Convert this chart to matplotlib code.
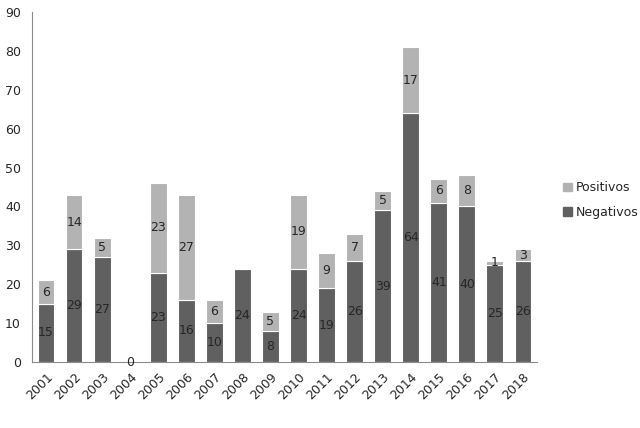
import numpy as np
import matplotlib
matplotlib.use("Agg")
import matplotlib.pyplot as plt
from matplotlib.patches import Patch

years = [str(y) for y in range(2001, 2019)]
negativos = [15, 29, 27, 0, 23, 16, 10, 24, 8, 24, 19, 26, 39, 64, 41, 40, 25, 26]
positivos = [6, 14, 5, 0, 23, 27, 6, 0, 5, 19, 9, 7, 5, 17, 6, 8, 1, 3]

dark = '#606060'
light = '#b3b3b3'
text_col = '#262626'

fig = plt.figure(figsize=(6.4, 4.28), dpi=100)
ax = fig.add_axes([0.05, 0.154, 0.789, 0.818])

x = np.arange(len(years))
neg = np.array(negativos)
pos = np.array(positivos)
ax.bar(x, neg, width=0.6, color=dark, edgecolor='white', linewidth=0.8)
ax.bar(x, pos, width=0.6, bottom=neg, color=light, edgecolor='white', linewidth=0.8)

for i in range(len(years)):
    ax.text(x[i], neg[i] / 2, str(neg[i]), ha='center', va='center',
            fontsize=9, color=text_col)
    if pos[i] > 0:
        ax.text(x[i], neg[i] + pos[i] / 2, str(pos[i]), ha='center', va='center',
                fontsize=9, color=text_col)

ax.set_xlim(-0.5, len(years) - 0.5)
ax.set_ylim(0, 90)
ax.set_yticks(range(0, 91, 10))
ax.set_xticks(x)
ax.set_xticklabels(years, rotation=45, ha='right', rotation_mode='anchor')
ax.tick_params(axis='both', length=0, labelsize=9, colors=text_col)
ax.tick_params(axis='y', pad=8)
ax.tick_params(axis='x', pad=6)
for s in ['top', 'right']:
    ax.spines[s].set_visible(False)
for s in ['left', 'bottom']:
    ax.spines[s].set_color('#8c8c8c')
    ax.spines[s].set_linewidth(0.8)

handles = [Patch(color=light, label='Positivos'), Patch(color=dark, label='Negativos')]
fig.legend(handles=handles, loc='center left', bbox_to_anchor=(0.862, 0.533),
           frameon=False, fontsize=9, handlelength=0.7, handleheight=0.7,
           handletextpad=0.3, labelspacing=0.9, labelcolor=text_col)

fig.savefig('out.png', dpi=100)
